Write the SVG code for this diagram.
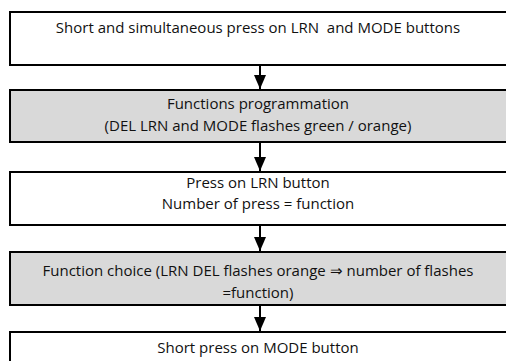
<svg xmlns="http://www.w3.org/2000/svg" width="506" height="361" viewBox="0 0 506 361">
<defs>
<marker id="ah" markerWidth="14" markerHeight="12" refX="14" refY="6" orient="auto" markerUnits="userSpaceOnUse" viewBox="0 0 14 12">
<path d="M0,0 L14,6 L0,12 Z" fill="#000"/>
</marker>
<style>
.box{stroke:#000;stroke-width:2}
.w{fill:#fff}
.g{fill:#d9d9d9}
.t{font-family:"Open Sans",Lato,"Liberation Sans",sans-serif;font-size:15px;fill:#111;text-anchor:middle;white-space:pre}
.c{stroke:#000;stroke-width:2;fill:none}
</style>
</defs>
<rect width="506" height="361" fill="#fff"/>
<g id="n1">
<rect class="box w" x="10" y="12" width="500" height="53"/>
<text class="t" x="258" y="33" xml:space="preserve">Short and simultaneous press on LRN  and MODE buttons</text>
</g>
<g id="n2">
<rect class="box g" x="10" y="90" width="500" height="52"/>
<text class="t" x="258" y="109">Functions programmation</text>
<text class="t" x="258" y="131">(DEL LRN and MODE flashes green / orange)</text>
</g>
<g id="n3">
<rect class="box w" x="10" y="172" width="500" height="53"/>
<text class="t" x="258" y="188">Press on LRN button</text>
<text class="t" x="258" y="209">Number of press = function</text>
</g>
<g id="n4">
<rect class="box g" x="10" y="252" width="500" height="53"/>
<text class="t" x="258" y="276">Function choice (LRN DEL flashes orange ⇒ number of flashes</text>
<text class="t" x="258" y="298">=function)</text>
</g>
<g id="n5">
<rect class="box w" x="10" y="332" width="500" height="40"/>
<text class="t" x="258" y="353">Short press on MODE button</text>
</g>
<g id="connectors">
<line class="c" x1="260" y1="66" x2="260" y2="89" marker-end="url(#ah)"/>
<line class="c" x1="260" y1="143" x2="260" y2="171" marker-end="url(#ah)"/>
<line class="c" x1="260" y1="226" x2="260" y2="251" marker-end="url(#ah)"/>
<line class="c" x1="260" y1="306" x2="260" y2="331" marker-end="url(#ah)"/>
</g>
</svg>
